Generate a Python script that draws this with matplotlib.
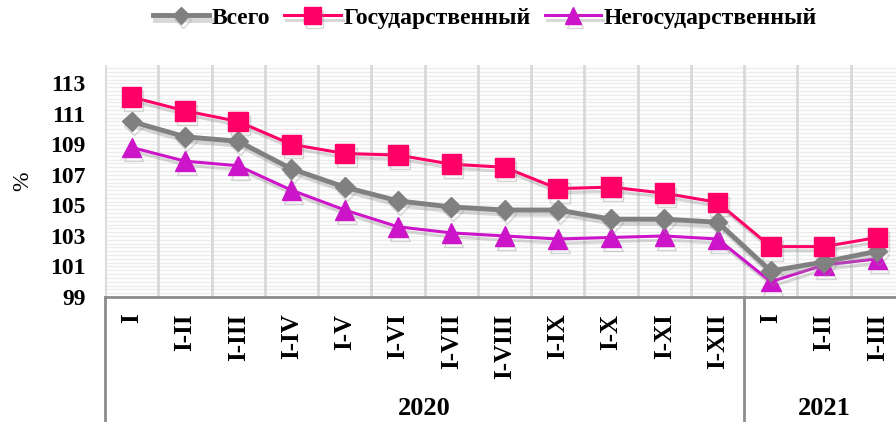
import numpy as np
import matplotlib
matplotlib.use("Agg")
import matplotlib.pyplot as plt
import matplotlib.patheffects as pe
import matplotlib.transforms as mtransforms

plt.rcParams['font.family'] = ['Liberation Serif', 'DejaVu Serif']
plt.rcParams['font.weight'] = 'bold'

months = ['I', 'I-II', 'I-III', 'I-IV', 'I-V', 'I-VI', 'I-VII', 'I-VIII',
          'I-IX', 'I-X', 'I-XI', 'I-XII', 'I', 'I-II', 'I-III']

total = [110.5, 109.5, 109.2, 107.4, 106.2, 105.3, 104.9, 104.7, 104.7,
         104.1, 104.1, 103.9, 100.7, 101.3, 102.0]
state = [112.1, 111.2, 110.5, 109.0, 108.4, 108.3, 107.7, 107.5, 106.1,
         106.2, 105.8, 105.2, 102.3, 102.3, 102.9]
nonstate = [108.8, 107.9, 107.6, 106.0, 104.7, 103.6, 103.2, 103.0, 102.8,
            102.9, 103.0, 102.8, 100.0, 101.1, 101.5]

x = np.arange(len(months))

fig = plt.figure(figsize=(8.96, 4.22), dpi=100)
ax = fig.add_axes([105/896, 1 - 297/422, (904 - 105)/896, (297 - 65)/422])

# background grid: dense horizontal lines + category boundaries
for yy in np.arange(99, 114.3, 0.25):
    ax.axhline(yy, color='#ececec', lw=1.0, zorder=0)
for xb in np.arange(-0.5, 15, 1):
    ax.axvline(xb, color='#d9d9d9', lw=2, zorder=0)

shadow = [pe.SimpleLineShadow(offset=(1.5, -3), shadow_color='#909090', alpha=0.35), pe.Normal()]

ax.plot(x, total, color='#808080', lw=3.5, marker='D', ms=10, label='Всего',
        zorder=3, path_effects=shadow)
ax.plot(x, state, color='#ff0066', lw=2.2, marker='s', ms=14, label='Государственный',
        zorder=4, path_effects=shadow)
ax.plot(x, nonstate, color='#cc14c8', lw=2.2, marker='^', ms=14, label='Негосударственный',
        zorder=2, path_effects=shadow)

ax.set_xlim(-0.5, 14.5)
ax.set_ylim(99, 114.2)
ax.set_yticks(np.arange(99, 114, 2))
ax.tick_params(axis='y', length=0, labelsize=17, pad=14)
ax.set_xticks(x)
ax.set_xticklabels(months, rotation=90, va='top', fontsize=18)
ax.tick_params(axis='x', length=0, pad=12)
for s in ['top', 'right', 'left']:
    ax.spines[s].set_visible(False)
ax.spines['bottom'].set_color('#8c8c8c')
ax.spines['bottom'].set_linewidth(2)
ax.set_ylabel('%', fontsize=17, labelpad=12)

# year groups below axis
trans = mtransforms.blended_transform_factory(ax.transData, ax.transAxes)
for xb in [-0.5, 11.5]:
    ax.plot([xb, xb], [0, -0.56], color='#8c8c8c', lw=2, transform=trans, clip_on=False)
ax.text(5.5, -0.48, '2020', transform=trans, ha='center', va='center', fontsize=19)
ax.text(13.0, -0.48, '2021', transform=trans, ha='center', va='center', fontsize=19)

fig.legend(loc='center', bbox_to_anchor=(0.541, 1 - 18/422), ncol=3, frameon=False,
           fontsize=17, handlelength=2.4, handletextpad=0.1, columnspacing=0.6,
           markerscale=0.85)

fig.savefig('out.png', dpi=100)
